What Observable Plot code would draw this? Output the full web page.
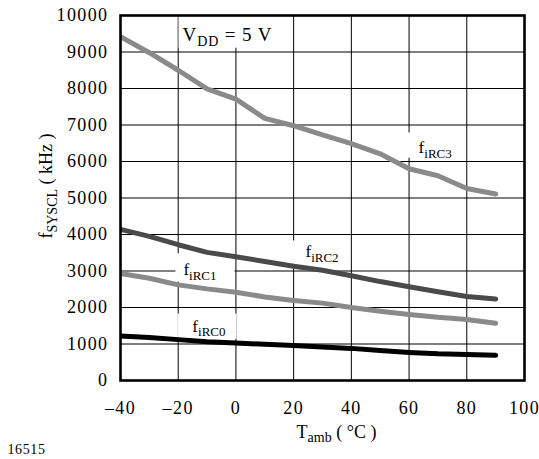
<!DOCTYPE html>
<html>
<head>
<meta charset="utf-8">
<script src="https://cdn.jsdelivr.net/npm/d3@7"></script>
<script src="https://cdn.jsdelivr.net/npm/@observablehq/plot@0.6"></script>
<style>
  html, body { margin: 0; padding: 0; background: #fff; }
  #chart { width: 539px; height: 459px; }
</style>
</head>
<body>
<div id="chart"></div>
<script>
// ---- data ----
const temps = [-40, -30, -20, -10, 0, 10, 20, 30, 40, 50, 60, 70, 80, 90];
const fiRC3 = [9420, 8980, 8500, 7990, 7710, 7180, 6980, 6730, 6490, 6210, 5800, 5610, 5260, 5110];
const fiRC2 = [4140, 3950, 3720, 3510, 3390, 3260, 3130, 3020, 2870, 2710, 2570, 2430, 2300, 2230];
const fiRC1 = [2930, 2800, 2620, 2510, 2420, 2290, 2190, 2120, 2000, 1900, 1810, 1730, 1670, 1570];
const fiRC0 = [1220, 1180, 1120, 1060, 1030, 990, 960, 920, 880, 820, 770, 730, 710, 690];
const seriesNames = ["f_{iRC3}", "f_{iRC2}", "f_{iRC1}", "f_{iRC0}"];
const seriesColors = ["#8a8a8a", "#4a4a4a", "#8a8a8a", "#000000"];
const xTicks = [-40, -20, 0, 20, 40, 60, 80, 100];
const yTicks = [0, 1000, 2000, 3000, 4000, 5000, 6000, 7000, 8000, 9000, 10000];
const xTitle = "T_{amb} ( °C )";
const yTitle = "f_{SYSCL} ( kHz )";
const noteText = "V_{DD} = 5 V";
const figId = "16515";

const seriesValues = [fiRC3, fiRC2, fiRC1, fiRC0];
const rows = seriesValues.map((vals, s) => temps.map((t, i) => ({t, f: vals[i], s})));

// label anchors (data units)
const labels = [
  {text: seriesNames[0], t: 63.3, f: 6370},
  {text: seriesNames[1], t: 24.1, f: 3520},
  {text: seriesNames[2], t: -18.2, f: 3030},
  {text: seriesNames[3], t: -15.1, f: 1490},
  {text: noteText, t: -18.5, f: 9470}
];

const fmt = d => d < 0 ? "\u2013" + Math.abs(d) : String(d);

const chart = Plot.plot({
  width: 539,
  height: 459,
  marginLeft: 120,
  marginRight: 15,
  marginTop: 15,
  marginBottom: 79,
  style: {fontFamily: "'Liberation Serif', 'Times New Roman', serif", fontSize: "18px", color: "#000", background: "#fff"},
  x: {domain: [-40, 100]},
  y: {domain: [0, 10000]},
  marks: [
    Plot.gridX(xTicks, {stroke: "#000", strokeOpacity: 1, strokeWidth: 1}),
    Plot.gridY(yTicks, {stroke: "#000", strokeOpacity: 1, strokeWidth: 1}),
    Plot.text(labels, {x: "t", y: "f", text: "text", textAnchor: "start", fontSize: 17, fill: "#000"}),
    ...rows.map((r, s) => Plot.line(r, {x: "t", y: "f", stroke: seriesColors[s], strokeWidth: 5, strokeLinecap: "round", strokeLinejoin: "round", clip: true})),
    Plot.frame({stroke: "#000", strokeWidth: 2.6}),
    Plot.axisX(xTicks, {tickSize: 0, tickPadding: 21, tickFormat: fmt, label: null, fontSize: 18}),
    Plot.axisY(yTicks, {tickSize: 0, tickPadding: 12, tickFormat: fmt, label: null, fontSize: 18}),
    Plot.text([xTitle], {frameAnchor: "bottom", textAnchor: "middle", dx: 14, dy: 57, fontSize: 18, fill: "#000"}),
    Plot.text([yTitle], {frameAnchor: "left", textAnchor: "middle", rotate: -90, dx: -74, dy: -12, fontSize: 18, fill: "#000"}),
    Plot.text([figId], {frameAnchor: "bottom-left", textAnchor: "start", dx: -113, dy: 73, fontSize: 14, fill: "#000"})
  ]
});

document.getElementById("chart").appendChild(chart);
const svg = d3.select(chart);

// wider tick digits like the reference
svg.selectAll('g[aria-label="x-axis tick label"] text, g[aria-label="y-axis tick label"] text')
  .style("letter-spacing", "1.4px");
svg.selectAll("text").filter(function() { return this.textContent === figId; })
  .style("letter-spacing", "0.6px");

// subscripts
function subify(el, size) {
  const s = el.textContent;
  const m = s.match(/^(.*?)_\{(.*?)\}(.*)$/);
  if (!m) return false;
  const subSize = Math.round(size * 0.76);
  const shift = size * 0.25;
  el.textContent = "";
  const sel = d3.select(el);
  sel.append("tspan").text(m[1]);
  sel.append("tspan").attr("font-size", subSize).attr("dy", shift).text(m[2]);
  if (m[3]) sel.append("tspan").attr("dy", -shift).text(m[3]);
  return true;
}

// white boxes behind the in-plot labels (padding: left, right, top, bottom)
const boxPad = new Map([
  [seriesNames[0], [13, 10, 6, -3]],
  [seriesNames[1], [13, 10, 2, -1]],
  [seriesNames[2], [8, 18, 7, -1]],
  [seriesNames[3], [15, 11, 3, 0]],
  [noteText, [4, 17, 12, -1]]
]);

svg.selectAll("text").each(function() {
  const content = this.textContent;
  const pad = boxPad.get(content);
  const isLabel = !!pad;
  const size = isLabel ? 17 : 18;
  if (content === noteText) {
    d3.select(this).attr("font-size", 19).style("letter-spacing", "0.9px");
  }
  if (subify(this, content === noteText ? 19 : size) && isLabel) {
    const b = this.getBBox();
    const [pl, pr, pt, pb] = pad;
    const r = document.createElementNS("http://www.w3.org/2000/svg", "rect");
    r.setAttribute("x", b.x - pl);
    r.setAttribute("y", b.y - pt);
    r.setAttribute("width", b.width + pl + pr);
    r.setAttribute("height", b.height + pt + pb);
    r.setAttribute("fill", "#fff");
    const tr = this.getAttribute("transform");
    if (tr) r.setAttribute("transform", tr);
    this.parentNode.insertBefore(r, this);
  }
});
</script>
</body>
</html>
